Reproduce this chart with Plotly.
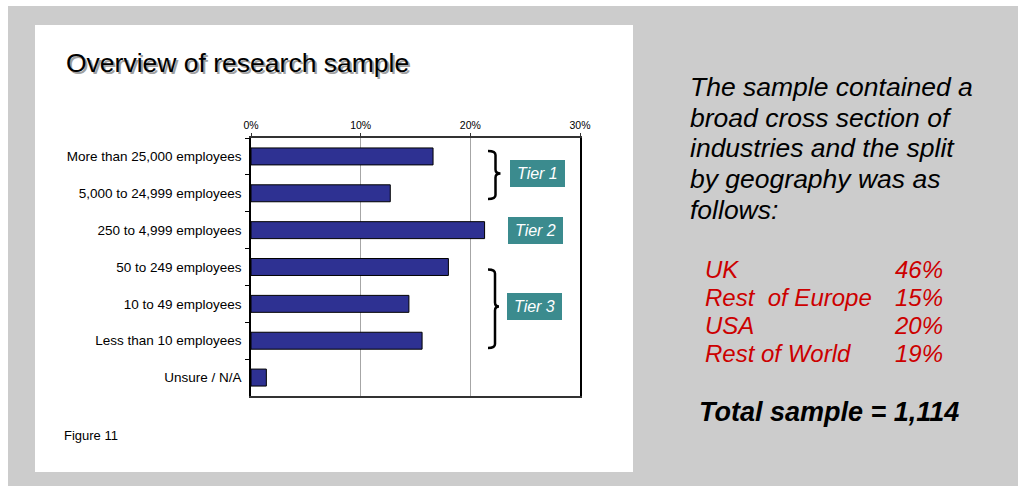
import plotly.graph_objects as go

# ---- data ----
categories = [
    "More than 25,000 employees",
    "5,000 to 24,999 employees",
    "250 to 4,999 employees",
    "50 to 249 employees",
    "10 to 49 employees",
    "Less than 10 employees",
    "Unsure / N/A",
]
shares = [0.166, 0.127, 0.213, 0.180, 0.144, 0.156, 0.014]
tick_vals = [0, 0.1, 0.2, 0.3]
tick_text = ["0%", "10%", "20%", "30%"]
regions = ["UK", "Rest&nbsp; of Europe", "USA", "Rest of World"]
region_pct = ["46%", "15%", "20%", "19%"]
total_sample = "1,114"
intro_lines = ["The sample contained a", "broad cross section of", "industries and the split",
               "by geography was as", "follows:"]

W, H = 1018, 486
L, R, T, B = 251, 580, 138, 396  # plot area in pixels

def px(x):
    return (x - L) / (R - L)

def py(y):
    return (B - y) / (B - T)

FONT = "Arial, Liberation Sans, sans-serif"

fig = go.Figure()
fig.add_trace(go.Bar(
    y=categories, x=shares, orientation="h",
    marker=dict(color="#2e3192", line=dict(color="#000000", width=1)),
    width=0.46,
    hoverinfo="x+y",
))

shapes = []
# grey slide background and white chart panel
shapes.append(dict(type="rect", xref="paper", yref="paper", layer="below",
                   x0=px(8), x1=px(1030), y0=py(6), y1=py(500),
                   fillcolor="#cccccc", line=dict(width=0)))
shapes.append(dict(type="rect", xref="paper", yref="paper", layer="below",
                   x0=px(35), x1=px(633), y0=py(25), y1=py(472),
                   fillcolor="#ffffff", line=dict(width=0)))

# tier boxes
tier_boxes = [(510, 565, 160, 187, "Tier 1"), (508, 563, 217, 244, "Tier 2"), (507, 562, 293, 320, "Tier 3")]
annotations = []
for x0, x1, y0, y1, lab in tier_boxes:
    shapes.append(dict(type="rect", xref="paper", yref="paper",
                       x0=px(x0), x1=px(x1), y0=py(y0), y1=py(y1),
                       fillcolor="#3b8b8e", line=dict(width=0)))
    annotations.append(dict(xref="paper", yref="paper", x=px((x0 + x1) / 2), y=py((y0 + y1) / 2),
                            text="<i>%s</i>" % lab, showarrow=False,
                            font=dict(family=FONT, size=16, color="#ffffff"),
                            xanchor="center", yanchor="middle"))

def brace(xl, xv, xt, ytop, ymid, ybot):
    r = 4
    pts = [
        f"M {px(xl)},{py(ytop)}",
        f"Q {px(xv)},{py(ytop)} {px(xv)},{py(ytop + r)}",
        f"L {px(xv)},{py(ymid - r)}",
        f"Q {px(xv)},{py(ymid)} {px(xt)},{py(ymid)}",
        f"Q {px(xv)},{py(ymid)} {px(xv)},{py(ymid + r)}",
        f"L {px(xv)},{py(ybot - r)}",
        f"Q {px(xv)},{py(ybot)} {px(xl)},{py(ybot)}",
    ]
    return dict(type="path", xref="paper", yref="paper", path=" ".join(pts),
                line=dict(color="#000000", width=2.5))

shapes.append(brace(488, 495.5, 500.5, 151, 173.5, 199))
shapes.append(brace(488, 495, 499, 269.5, 306.5, 348))

# title with shadow
title = "Overview of research sample"
annotations.append(dict(xref="paper", yref="paper", x=px(64 + 2), y=py(63 + 2), text=title,
                        showarrow=False, xanchor="left", yanchor="middle",
                        font=dict(family=FONT, size=26.5, color="#a0a0a0")))
annotations.append(dict(xref="paper", yref="paper", x=px(64), y=py(63), text=title,
                        showarrow=False, xanchor="left", yanchor="middle",
                        font=dict(family=FONT, size=26.5, color="#000000")))
annotations.append(dict(xref="paper", yref="paper", x=px(62), y=py(435), text="Figure 11",
                        showarrow=False, xanchor="left", yanchor="middle",
                        font=dict(family=FONT, size=13, color="#000000")))

# right hand commentary
intro_y = [87, 117.5, 148, 179, 209.5]
for line, yy in zip(intro_lines, intro_y):
    annotations.append(dict(xref="paper", yref="paper", x=px(688), y=py(yy), text="<i>%s</i>" % line,
                            showarrow=False, xanchor="left", yanchor="middle", align="left",
                            font=dict(family=FONT, size=26.5, color="#000000")))
row_y = [269, 297, 325, 353]
for name, pct, yy in zip(regions, region_pct, row_y):
    annotations.append(dict(xref="paper", yref="paper", x=px(703), y=py(yy), text="<i>%s</i>" % name,
                            showarrow=False, xanchor="left", yanchor="middle",
                            font=dict(family=FONT, size=24, color="#cc0000")))
    annotations.append(dict(xref="paper", yref="paper", x=px(945), y=py(yy), text="<i>%s</i>" % pct,
                            showarrow=False, xanchor="right", yanchor="middle",
                            font=dict(family=FONT, size=24, color="#cc0000")))
annotations.append(dict(xref="paper", yref="paper", x=px(697), y=py(412),
                        text="<b><i>Total sample = %s</i></b>" % total_sample,
                        showarrow=False, xanchor="left", yanchor="middle",
                        font=dict(family=FONT, size=27, color="#000000")))

fig.update_layout(
    width=W, height=H,
    margin=dict(l=L, r=W - R, t=T, b=H - B, pad=0),
    paper_bgcolor="#ffffff", plot_bgcolor="#ffffff",
    showlegend=False,
    shapes=shapes, annotations=annotations,
    font=dict(family=FONT, color="#000000"),
    xaxis=dict(side="top", range=[0, 0.3], tickvals=tick_vals, ticktext=tick_text,
               showgrid=True, gridcolor="#a6a6a6", gridwidth=1, zeroline=False,
               showline=True, linecolor="#333333", linewidth=1.5, mirror=True,
               ticks="outside", ticklen=3, tickcolor="#333333",
               tickfont=dict(size=10.5, family=FONT, color="#000000"), fixedrange=True),
    yaxis=dict(autorange="reversed", showgrid=False, zeroline=False,
               showline=True, linecolor="#000000", linewidth=1.5, mirror=True,
               ticks="outside", ticklen=4, tickson="boundaries", tickcolor="#000000",
               ticklabelstandoff=5,
               tickfont=dict(size=13.5, family=FONT, color="#000000"), fixedrange=True),
)

fig.write_html("out.html")
